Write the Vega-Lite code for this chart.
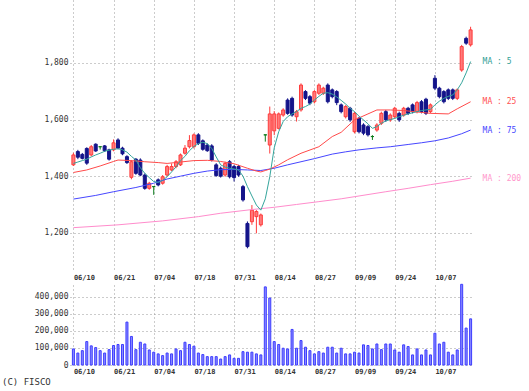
{
"$schema": "https://vega.github.io/schema/vega-lite/v6.json",
"padding": {"left": 0, "top": 0, "right": 0, "bottom": 0},
"background": "white",
"config": {
  "view": {"stroke": null},
  "font": "DejaVu Sans Mono",
  "axis": {"labelFont": "DejaVu Sans Mono", "labelFontSize": 8, "labelColor": "#333", "domain": false, "ticks": false, "gridColor": "#999", "gridDash": [1, 3], "gridWidth": 1}
},
"title": {"text": "(C) FISCO", "orient": "bottom", "anchor": "start", "frame": "bounds", "fontSize": 9, "fontWeight": "normal", "font": "DejaVu Sans Mono", "color": "#333", "offset": 4, "dx": 2},
"spacing": 3,
"datasets": {
"p": [
{"d":"06/10","o":1440,"h":1483,"l":1436,"c":1475,"v":94000,"m5":1445,"m25":1413,"m75":1319,"m200":1218},
{"d":"06/11","o":1487,"h":1493,"l":1460,"c":1467,"v":70000,"m5":1450},
{"d":"06/12","o":1477,"h":1482,"l":1459,"c":1463,"v":84000,"m5":1455},
{"d":"06/13","o":1498,"h":1502,"l":1440,"c":1446,"v":137000,"m5":1460,"m25":1422},
{"d":"06/14","o":1475,"h":1510,"l":1470,"c":1504,"v":112000,"m5":1468},
{"d":"06/17","o":1513,"h":1516,"l":1486,"c":1489,"v":102000,"m5":1475,"m75":1332},
{"d":"06/18","o":1504,"h":1504,"l":1494,"c":1504,"v":84000,"m5":1481,"m25":1436},
{"d":"06/19","o":1507,"h":1510,"l":1486,"c":1490,"v":70000,"m5":1488},
{"d":"06/20","o":1493,"h":1497,"l":1455,"c":1460,"v":90000,"m5":1492},
{"d":"06/21","o":1493,"h":1530,"l":1488,"c":1518,"v":114000,"m5":1495,"m25":1452,"m75":1345},
{"d":"06/24","o":1528,"h":1534,"l":1495,"c":1499,"v":120000,"m5":1497,"m25":1457,"m200":1228},
{"d":"06/25","o":1499,"h":1504,"l":1474,"c":1479,"v":120000,"m5":1493},
{"d":"06/26","o":1469,"h":1474,"l":1443,"c":1448,"v":251000,"m5":1485},
{"d":"06/27","o":1396,"h":1457,"l":1389,"c":1451,"v":167000,"m5":1470,"m25":1455},
{"d":"06/28","o":1460,"h":1464,"l":1405,"c":1410,"v":90000,"m5":1457,"m75":1360},
{"d":"07/01","o":1457,"h":1463,"l":1400,"c":1404,"v":133000,"m5":1430},
{"d":"07/02","o":1404,"h":1410,"l":1352,"c":1357,"v":123000,"m5":1410,"m25":1451},
{"d":"07/03","o":1357,"h":1380,"l":1352,"c":1375,"v":88000,"m5":1395},
{"d":"07/04","o":1363,"h":1363,"l":1334,"c":1363,"v":75000,"m5":1381,"m75":1375},
{"d":"07/05","o":1387,"h":1392,"l":1364,"c":1369,"v":65000,"m5":1378,"m25":1448},
{"d":"07/08","o":1375,"h":1404,"l":1370,"c":1398,"v":55000,"m5":1385,"m200":1242},
{"d":"07/09","o":1404,"h":1440,"l":1400,"c":1434,"v":70000,"m5":1398,"m25":1445,"m75":1390},
{"d":"07/10","o":1422,"h":1445,"l":1418,"c":1434,"v":65000,"m5":1415},
{"d":"07/11","o":1434,"h":1457,"l":1428,"c":1451,"v":94000,"m5":1433},
{"d":"07/12","o":1440,"h":1480,"l":1436,"c":1475,"v":84000,"m5":1455,"m25":1450,"m75":1400},
{"d":"07/16","o":1481,"h":1510,"l":1476,"c":1499,"v":133000,"m5":1470},
{"d":"07/17","o":1504,"h":1545,"l":1498,"c":1526,"v":120000,"m5":1490},
{"d":"07/18","o":1504,"h":1551,"l":1498,"c":1546,"v":110000,"m5":1505,"m25":1455,"m75":1410},
{"d":"07/19","o":1546,"h":1552,"l":1510,"c":1516,"v":70000,"m5":1515,"m200":1257},
{"d":"07/22","o":1525,"h":1530,"l":1490,"c":1495,"v":61000,"m5":1520},
{"d":"07/23","o":1510,"h":1516,"l":1486,"c":1490,"v":49000,"m5":1515,"m25":1456,"m75":1418},
{"d":"07/24","o":1507,"h":1513,"l":1452,"c":1457,"v":49000,"m5":1498},
{"d":"07/25","o":1440,"h":1446,"l":1398,"c":1402,"v":49000,"m5":1468},
{"d":"07/26","o":1428,"h":1434,"l":1395,"c":1400,"v":35000,"m5":1440,"m25":1452,"m75":1423,"m200":1269},
{"d":"07/29","o":1404,"h":1451,"l":1398,"c":1445,"v":49000,"m5":1432},
{"d":"07/30","o":1451,"h":1457,"l":1392,"c":1398,"v":59000,"m5":1428},
{"d":"07/31","o":1434,"h":1440,"l":1381,"c":1395,"v":39000,"m5":1425,"m25":1444,"m75":1424},
{"d":"08/01","o":1434,"h":1440,"l":1398,"c":1404,"v":39000,"m5":1422},
{"d":"08/02","o":1363,"h":1369,"l":1310,"c":1316,"v":78000,"m5":1400},
{"d":"08/05","o":1233,"h":1240,"l":1145,"c":1151,"v":75000,"m5":1363,"m25":1428,"m75":1422},
{"d":"08/06","o":1239,"h":1298,"l":1228,"c":1280,"v":75000,"m5":1330,"m200":1282},
{"d":"08/07","o":1257,"h":1280,"l":1198,"c":1275,"v":65000,"m5":1298,"m25":1418},
{"d":"08/08","o":1228,"h":1268,"l":1222,"c":1263,"v":59000,"m5":1280,"m25":1415,"m75":1420},
{"d":"08/09","o":1546,"h":1546,"l":1522,"c":1546,"v":457000,"m5":1320,"m25":1420},
{"d":"08/13","o":1510,"h":1646,"l":1480,"c":1620,"v":392000,"m5":1398,"m25":1425},
{"d":"08/14","o":1560,"h":1630,"l":1545,"c":1620,"v":137000,"m5":1500,"m75":1428,"m200":1290},
{"d":"08/15","o":1569,"h":1625,"l":1565,"c":1620,"v":120000,"m5":1557,"m25":1440},
{"d":"08/16","o":1616,"h":1640,"l":1610,"c":1634,"v":98000,"m5":1593},
{"d":"08/19","o":1669,"h":1675,"l":1617,"c":1622,"v":94000,"m5":1610,"m25":1458,"m75":1440},
{"d":"08/20","o":1675,"h":1681,"l":1610,"c":1616,"v":208000,"m5":1620},
{"d":"08/21","o":1610,"h":1634,"l":1593,"c":1628,"v":98000,"m5":1628,"m200":1300},
{"d":"08/22","o":1634,"h":1728,"l":1628,"c":1722,"v":143000,"m5":1640,"m25":1481,"m75":1451},
{"d":"08/23","o":1699,"h":1704,"l":1669,"c":1675,"v":104000,"m5":1646},
{"d":"08/26","o":1681,"h":1687,"l":1651,"c":1658,"v":84000,"m5":1655},
{"d":"08/27","o":1663,"h":1704,"l":1657,"c":1699,"v":65000,"m5":1669,"m75":1462},
{"d":"08/28","o":1693,"h":1728,"l":1687,"c":1722,"v":78000,"m5":1682,"m25":1504,"m200":1310},
{"d":"08/29","o":1693,"h":1716,"l":1687,"c":1711,"v":70000,"m5":1693},
{"d":"08/30","o":1722,"h":1728,"l":1657,"c":1663,"v":104000,"m5":1695},
{"d":"09/02","o":1705,"h":1710,"l":1675,"c":1681,"v":104000,"m5":1690,"m25":1540,"m75":1478},
{"d":"09/03","o":1699,"h":1704,"l":1651,"c":1660,"v":70000,"m5":1680},
{"d":"09/04","o":1652,"h":1657,"l":1622,"c":1628,"v":98000,"m5":1668,"m25":1555,"m200":1320},
{"d":"09/05","o":1610,"h":1651,"l":1604,"c":1646,"v":65000,"m5":1655,"m75":1486},
{"d":"09/06","o":1640,"h":1645,"l":1592,"c":1599,"v":65000,"m5":1640},
{"d":"09/09","o":1557,"h":1628,"l":1551,"c":1622,"v":75000,"m5":1628,"m25":1599},
{"d":"09/10","o":1605,"h":1610,"l":1551,"c":1557,"v":70000,"m5":1612,"m75":1493,"m200":1330},
{"d":"09/11","o":1581,"h":1587,"l":1545,"c":1552,"v":118000,"m5":1599},
{"d":"09/12","o":1575,"h":1581,"l":1540,"c":1546,"v":114000,"m5":1585,"m25":1620},
{"d":"09/13","o":1540,"h":1545,"l":1528,"c":1540,"v":94000,"m5":1569},
{"d":"09/17","o":1563,"h":1587,"l":1557,"c":1581,"v":123000,"m5":1575,"m25":1634,"m75":1500},
{"d":"09/18","o":1587,"h":1628,"l":1581,"c":1622,"v":90000,"m5":1587},
{"d":"09/19","o":1628,"h":1634,"l":1592,"c":1599,"v":123000,"m5":1595,"m200":1345},
{"d":"09/20","o":1599,"h":1622,"l":1592,"c":1616,"v":123000,"m5":1600,"m25":1634,"m75":1504},
{"d":"09/24","o":1610,"h":1645,"l":1604,"c":1640,"v":88000,"m5":1604},
{"d":"09/25","o":1622,"h":1628,"l":1592,"c":1599,"v":75000,"m5":1610},
{"d":"09/26","o":1616,"h":1645,"l":1610,"c":1640,"v":118000,"m5":1615,"m25":1632},
{"d":"09/27","o":1640,"h":1645,"l":1616,"c":1622,"v":108000,"m5":1620,"m75":1512,"m200":1357},
{"d":"09/30","o":1652,"h":1657,"l":1622,"c":1628,"v":59000,"m5":1624},
{"d":"10/01","o":1628,"h":1666,"l":1622,"c":1660,"v":94000,"m5":1628,"m25":1627},
{"d":"10/02","o":1663,"h":1669,"l":1622,"c":1628,"v":59000,"m5":1632,"m75":1518},
{"d":"10/03","o":1672,"h":1677,"l":1616,"c":1622,"v":88000,"m5":1634},
{"d":"10/04","o":1628,"h":1657,"l":1622,"c":1652,"v":59000,"m5":1636,"m25":1622,"m200":1370},
{"d":"10/07","o":1746,"h":1757,"l":1704,"c":1711,"v":186000,"m5":1652,"m75":1525},
{"d":"10/08","o":1711,"h":1716,"l":1675,"c":1681,"v":123000,"m5":1665},
{"d":"10/09","o":1699,"h":1704,"l":1657,"c":1663,"v":133000,"m5":1675},
{"d":"10/10","o":1705,"h":1710,"l":1669,"c":1675,"v":75000,"m5":1682,"m25":1620,"m75":1535},
{"d":"10/11","o":1705,"h":1710,"l":1669,"c":1675,"v":59000,"m5":1687,"m200":1382},
{"d":"10/15","o":1675,"h":1710,"l":1669,"c":1705,"v":88000,"m5":1705,"m25":1638},
{"d":"10/16","o":1775,"h":1864,"l":1769,"c":1858,"v":472000,"m5":1730,"m75":1550},
{"d":"10/17","o":1887,"h":1893,"l":1864,"c":1870,"v":216000,"m5":1765},
{"d":"10/18","o":1864,"h":1928,"l":1858,"c":1917,"v":270000,"m5":1805,"m25":1663,"m75":1563,"m200":1393}
],
"lab": [
{"d":"10/18","v":1805,"t":"MA : 5","k":"5"},
{"d":"10/18","v":1663,"t":"MA : 25","k":"25"},
{"d":"10/18","v":1560,"t":"MA : 75","k":"75"},
{"d":"10/18","v":1390,"t":"MA : 200","k":"200"}
]
},
"vconcat": [
{
  "width": 404, "height": 270,
  "data": {"name": "p"},
  "encoding": {
    "x": {"field": "d", "type": "ordinal", "sort": null, "title": null,
      "scale": {"type": "point", "padding": 0.76},
      "axis": {"values": ["06/10","06/21","07/04","07/18","07/31","08/14","08/27","09/09","09/24","10/07"], "labelAlign": "left", "labelAngle": 0, "labelFontSize": 7, "labelFontWeight": "bold", "labelPadding": 3, "grid": true}}
  },
  "layer": [
    {"mark": {"type": "rule", "strokeWidth": 1},
     "encoding": {
       "y": {"field": "l", "type": "quantitative", "title": null, "scale": {"domain": [1068.4, 2022.6], "nice": false, "zero": false},
         "axis": {"values": [1200, 1400, 1600, 1800], "format": ",.0f", "grid": true, "minExtent": 70, "labelPadding": 2}},
       "y2": {"field": "h"},
       "color": {"condition": [{"test": "datum.c > datum.o", "value": "#ff3b3b"}, {"test": "datum.c < datum.o", "value": "#14148a"}], "value": "#0a7a1a"}
     }},
    {"mark": {"type": "bar", "size": 3, "strokeWidth": 1},
     "encoding": {
       "y": {"field": "o", "type": "quantitative", "title": null},
       "y2": {"field": "c"},
       "fill": {"condition": [{"test": "datum.c > datum.o", "value": "#ff7a7a"}, {"test": "datum.c < datum.o", "value": "#14148a"}], "value": "#0a7a1a"},
       "stroke": {"condition": [{"test": "datum.c > datum.o", "value": "#ff3b3b"}, {"test": "datum.c < datum.o", "value": "#14148a"}], "value": "#0a7a1a"}
     }},
    {"transform": [{"filter": "isValid(datum.m200)"}],
     "mark": {"type": "line", "color": "#ff8ccc", "strokeWidth": 1},
     "encoding": {"y": {"field": "m200", "type": "quantitative", "title": null}}},
    {"transform": [{"filter": "isValid(datum.m75)"}],
     "mark": {"type": "line", "color": "#4646ff", "strokeWidth": 1},
     "encoding": {"y": {"field": "m75", "type": "quantitative", "title": null}}},
    {"transform": [{"filter": "isValid(datum.m25)"}],
     "mark": {"type": "line", "color": "#ff4a4a", "strokeWidth": 1},
     "encoding": {"y": {"field": "m25", "type": "quantitative", "title": null}}},
    {"transform": [{"filter": "isValid(datum.m5)"}],
     "mark": {"type": "line", "color": "#35a59c", "strokeWidth": 1},
     "encoding": {"y": {"field": "m5", "type": "quantitative", "title": null}}},
    {"data": {"name": "lab"},
     "mark": {"type": "text", "align": "left", "baseline": "middle", "dx": 12, "fontSize": 8, "font": "DejaVu Sans Mono"},
     "encoding": {
       "y": {"field": "v", "type": "quantitative", "title": null},
       "text": {"field": "t"},
       "color": {"field": "k", "type": "nominal", "legend": null, "scale": {"domain": ["5", "25", "75", "200"], "range": ["#2f9e94", "#ff5050", "#4646ff", "#ff99cc"]}}
     }}
  ]
},
{
  "width": 404, "height": 80,
  "data": {"name": "p"},
  "mark": {"type": "bar", "size": 2, "fill": "#8c8cff", "stroke": "#3c3cff", "strokeWidth": 1},
  "encoding": {
    "x": {"field": "d", "type": "ordinal", "sort": null, "title": null,
      "scale": {"type": "point", "padding": 0.76},
      "axis": {"values": ["06/10","06/21","07/04","07/18","07/31","08/14","08/27","09/09","09/24","10/07"], "labelAlign": "left", "labelAngle": 0, "labelFontSize": 7, "labelFontWeight": "bold", "labelPadding": 2, "grid": true}},
    "y": {"field": "v", "type": "quantitative", "title": null, "scale": {"domain": [0, 468000], "nice": false},
      "axis": {"values": [0, 100000, 200000, 300000, 400000], "format": ",.0f", "grid": true, "minExtent": 70, "labelPadding": 2}}
  }
}
]
}
